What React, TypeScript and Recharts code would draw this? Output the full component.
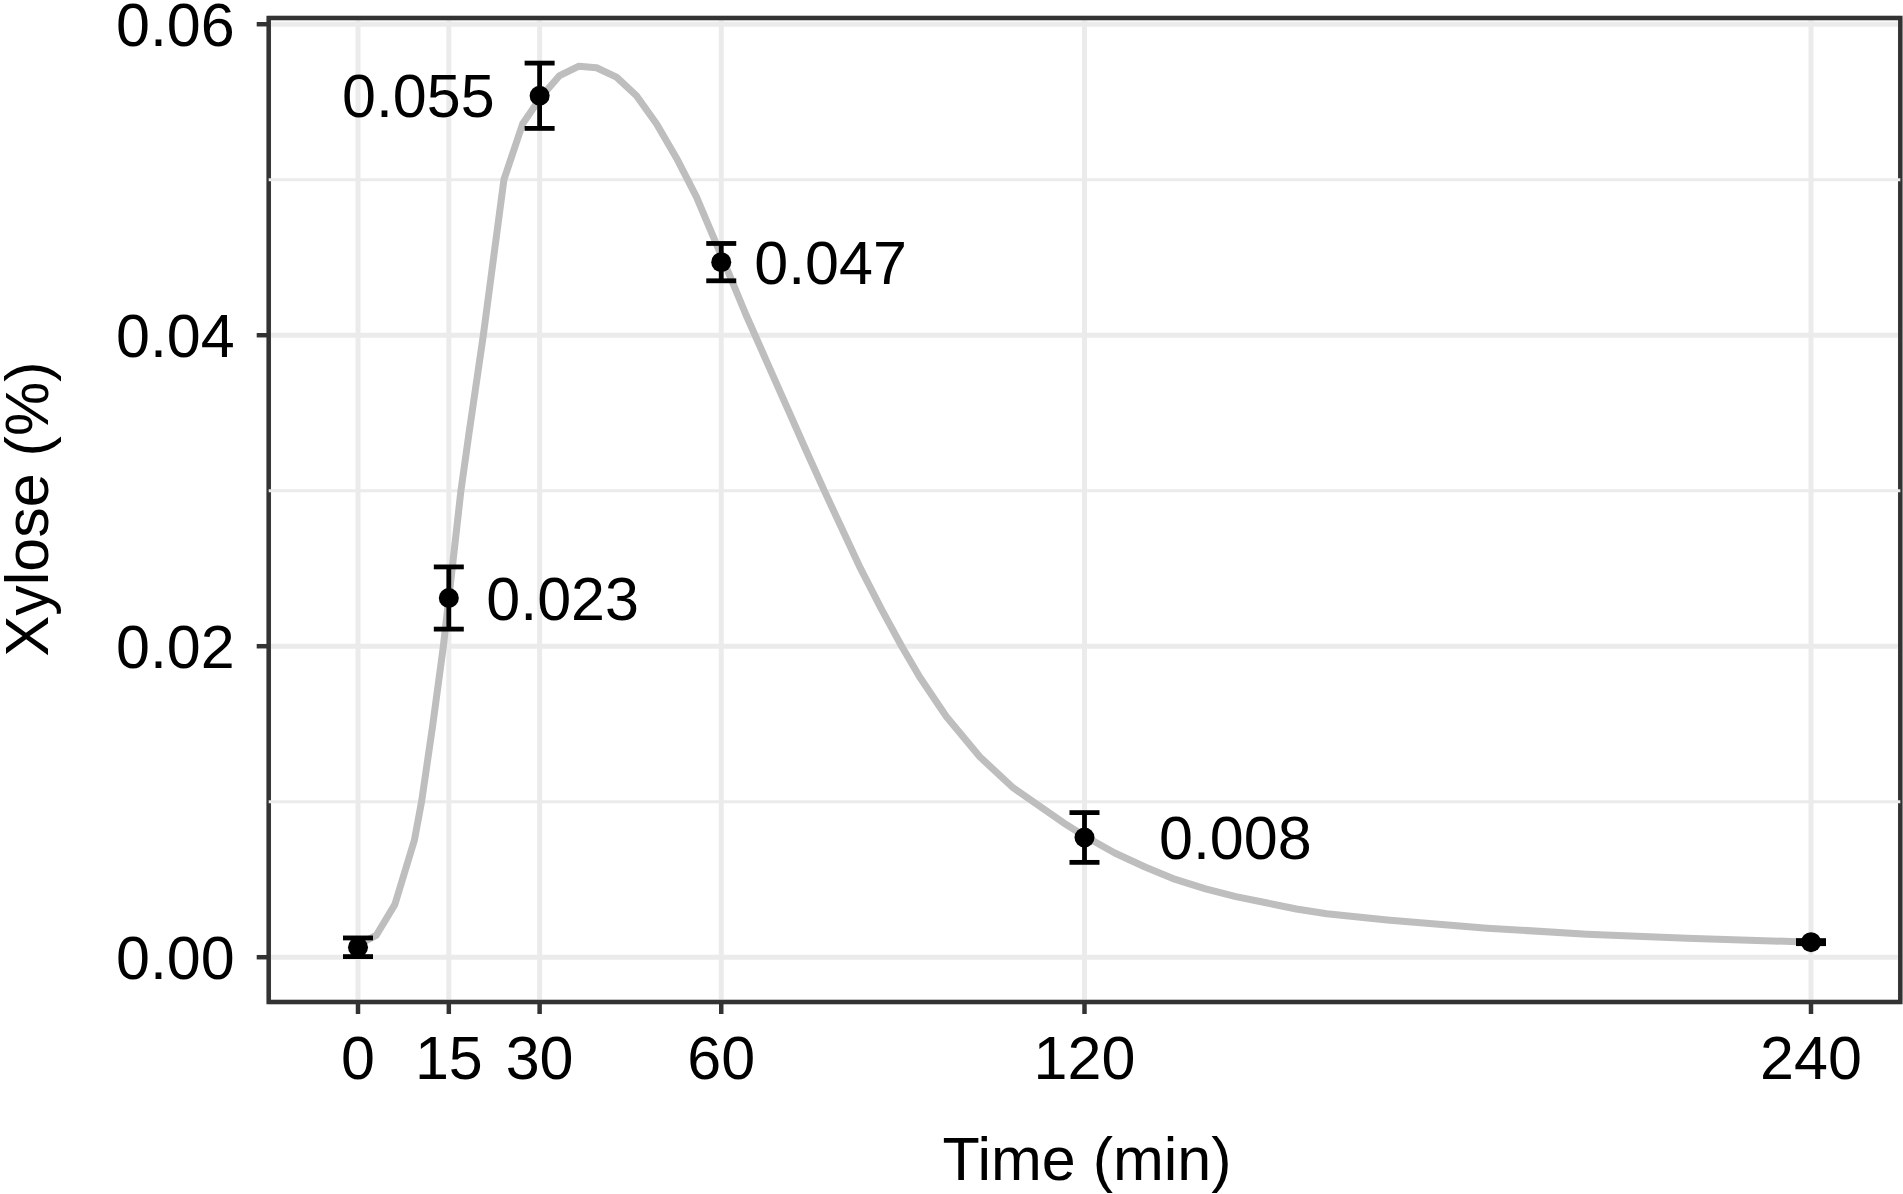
import React from 'react';
import {
  ComposedChart,
  Line,
  Scatter,
  XAxis,
  YAxis,
  CartesianGrid,
  ErrorBar,
  ReferenceLine,
  ReferenceArea,
  Label,
} from 'recharts';

// ---- data ----
const curveTime = [
  0, 3, 6.1, 9.3, 10.5, 12.3, 14.1, 15.3, 17.0, 18.3, 20.7, 24.1, 27.2, 30.2, 33.3, 36.5, 39.4,
  42.7, 46.0, 49.3, 52.6, 55.9, 58.5, 60.8, 64.1, 67.4, 70.7, 74.0, 76.9, 80.0, 83.0, 86.5, 89.8,
  92.8, 97.2, 102.7, 108.2, 112.1, 116.5, 120.0, 125.0, 130.0, 135.0, 140.0, 145.0, 150.0, 155.0,
  160.0, 170.0, 186.5, 203.0, 219.5, 240.0,
];
const curveXylose = [
  0.0008, 0.0014, 0.0034, 0.0075, 0.01, 0.0148, 0.02, 0.0241, 0.03, 0.0336, 0.04, 0.05, 0.0536,
  0.0553, 0.0567, 0.0573, 0.0572, 0.0566, 0.0554, 0.0536, 0.0514, 0.0489, 0.0465, 0.0444, 0.0413,
  0.0384, 0.0355, 0.0326, 0.0301, 0.0275, 0.025, 0.02235, 0.02, 0.018, 0.01546, 0.01289, 0.0109,
  0.00985, 0.00865, 0.0078, 0.0067, 0.0058, 0.005, 0.0044, 0.0039, 0.0035, 0.0031, 0.0028, 0.0024,
  0.00187, 0.00148, 0.00122, 0.00097,
];

const sampleTime = [0, 15, 30, 60, 120, 240];
const sampleMean = [0.00064, 0.0231, 0.0554, 0.0447, 0.0077, 0.00097];
const sampleSd = [0.0006, 0.002, 0.0021, 0.0012, 0.0016, 0.0001];

const labelTime = [15, 30, 60, 120];
const labelText = ['0.023', '0.055', '0.047', '0.008'];

const xTicks = [0, 15, 30, 60, 120, 240];
const yTicks = [0, 0.02, 0.04, 0.06];
const yMinorTicks = [0.01, 0.03, 0.05];

const xDomain: [number, number] = [-14.75, 254.75];
const yDomain: [number, number] = [-0.00288, 0.0604];

// ---- derived tables ----
const curveData = curveTime.map((t, i) => ({ t, v: curveXylose[i] }));
const sampleData = sampleTime.map((t, i) => ({ t, v: sampleMean[i], sd: sampleSd[i] }));
const labelData = labelTime.map((t, i) => ({
  t,
  v: sampleMean[sampleTime.indexOf(t)],
  label: labelText[i],
}));

// ---- styling ----
const FONT = '"Liberation Sans", Arial, Helvetica, sans-serif';
const FONT_SIZE = 61;
const LABEL_LAYOUT: Record<string, { dx: number; anchor: 'start' | 'end' }> = {
  '0.023': { dx: 37.5, anchor: 'start' },
  '0.055': { dx: -45, anchor: 'end' },
  '0.047': { dx: 33, anchor: 'start' },
  '0.008': { dx: 74.5, anchor: 'start' },
};

const PointShape = (p: any) => <circle cx={p.cx} cy={p.cy} r={10} fill="#000000" />;

const LabelShape = (p: any) => {
  const lay = LABEL_LAYOUT[p.payload.label];
  return (
    <text
      x={p.cx + lay.dx}
      y={p.cy}
      dy="0.355em"
      textAnchor={lay.anchor}
      fontFamily={FONT}
      fontSize={FONT_SIZE}
      fill="#000000"
    >
      {p.payload.label}
    </text>
  );
};

export default function App() {
  return (
    <div
      style={{
        position: 'absolute',
        left: 0,
        top: 0,
        width: 1903,
        height: 1194,
        background: '#ffffff',
      }}
    >
      <ComposedChart
        width={1903}
        height={1194}
        margin={{ top: 18, right: 2.7, bottom: 0, left: 0 }}
      >
        <CartesianGrid stroke="#EBEBEB" strokeWidth={5} />
        {yMinorTicks.map((y) => (
          <ReferenceLine key={y} y={y} stroke="#EBEBEB" strokeWidth={3} ifOverflow="visible" />
        ))}
        <XAxis
          type="number"
          dataKey="t"
          domain={xDomain}
          allowDataOverflow
          ticks={xTicks}
          interval={0}
          height={192}
          axisLine={false}
          tickSize={12}
          tickMargin={22}
          tickLine={{ stroke: '#333333', strokeWidth: 4.5 }}
          tick={{ fill: '#000000', fontSize: FONT_SIZE, fontFamily: FONT }}
        >
          <Label
            content={() => (
              <text
                x={1087}
                y={1180}
                textAnchor="middle"
                fontFamily={FONT}
                fontSize={FONT_SIZE}
                fill="#000000"
              >
                Time (min)
              </text>
            )}
          />
        </XAxis>
        <YAxis
          type="number"
          dataKey="v"
          domain={yDomain}
          allowDataOverflow
          ticks={yTicks}
          interval={0}
          width={268.7}
          axisLine={false}
          tickSize={12}
          tickMargin={22}
          tickFormatter={(v: number) => v.toFixed(2)}
          tickLine={{ stroke: '#333333', strokeWidth: 4.5 }}
          tick={{ fill: '#000000', fontSize: FONT_SIZE, fontFamily: FONT }}
        >
          <Label
            content={() => (
              <text
                x={0}
                y={0}
                transform="translate(48, 509) rotate(-90)"
                textAnchor="middle"
                fontFamily={FONT}
                fontSize={FONT_SIZE}
                fill="#000000"
              >
                Xylose (%)
              </text>
            )}
          />
        </YAxis>
        <Line
          data={curveData}
          dataKey="v"
          type="linear"
          stroke="#BEBEBE"
          strokeWidth={7}
          strokeLinejoin="round"
          dot={false}
          activeDot={false}
          isAnimationActive={false}
        />
        <Scatter data={sampleData} dataKey="v" shape={PointShape} isAnimationActive={false}>
          <ErrorBar
            dataKey="sd"
            direction="y"
            width={15}
            stroke="#000000"
            strokeWidth={4.8}
            isAnimationActive={false}
          />
        </Scatter>
        <Scatter data={labelData} dataKey="v" shape={LabelShape} isAnimationActive={false} />
        <ReferenceArea
          x1={xDomain[0]}
          x2={xDomain[1]}
          y1={yDomain[0]}
          y2={yDomain[1]}
          fill="none"
          fillOpacity={0}
          stroke="#333333"
          strokeWidth={4.5}
          ifOverflow="visible"
        />
      </ComposedChart>
    </div>
  );
}
